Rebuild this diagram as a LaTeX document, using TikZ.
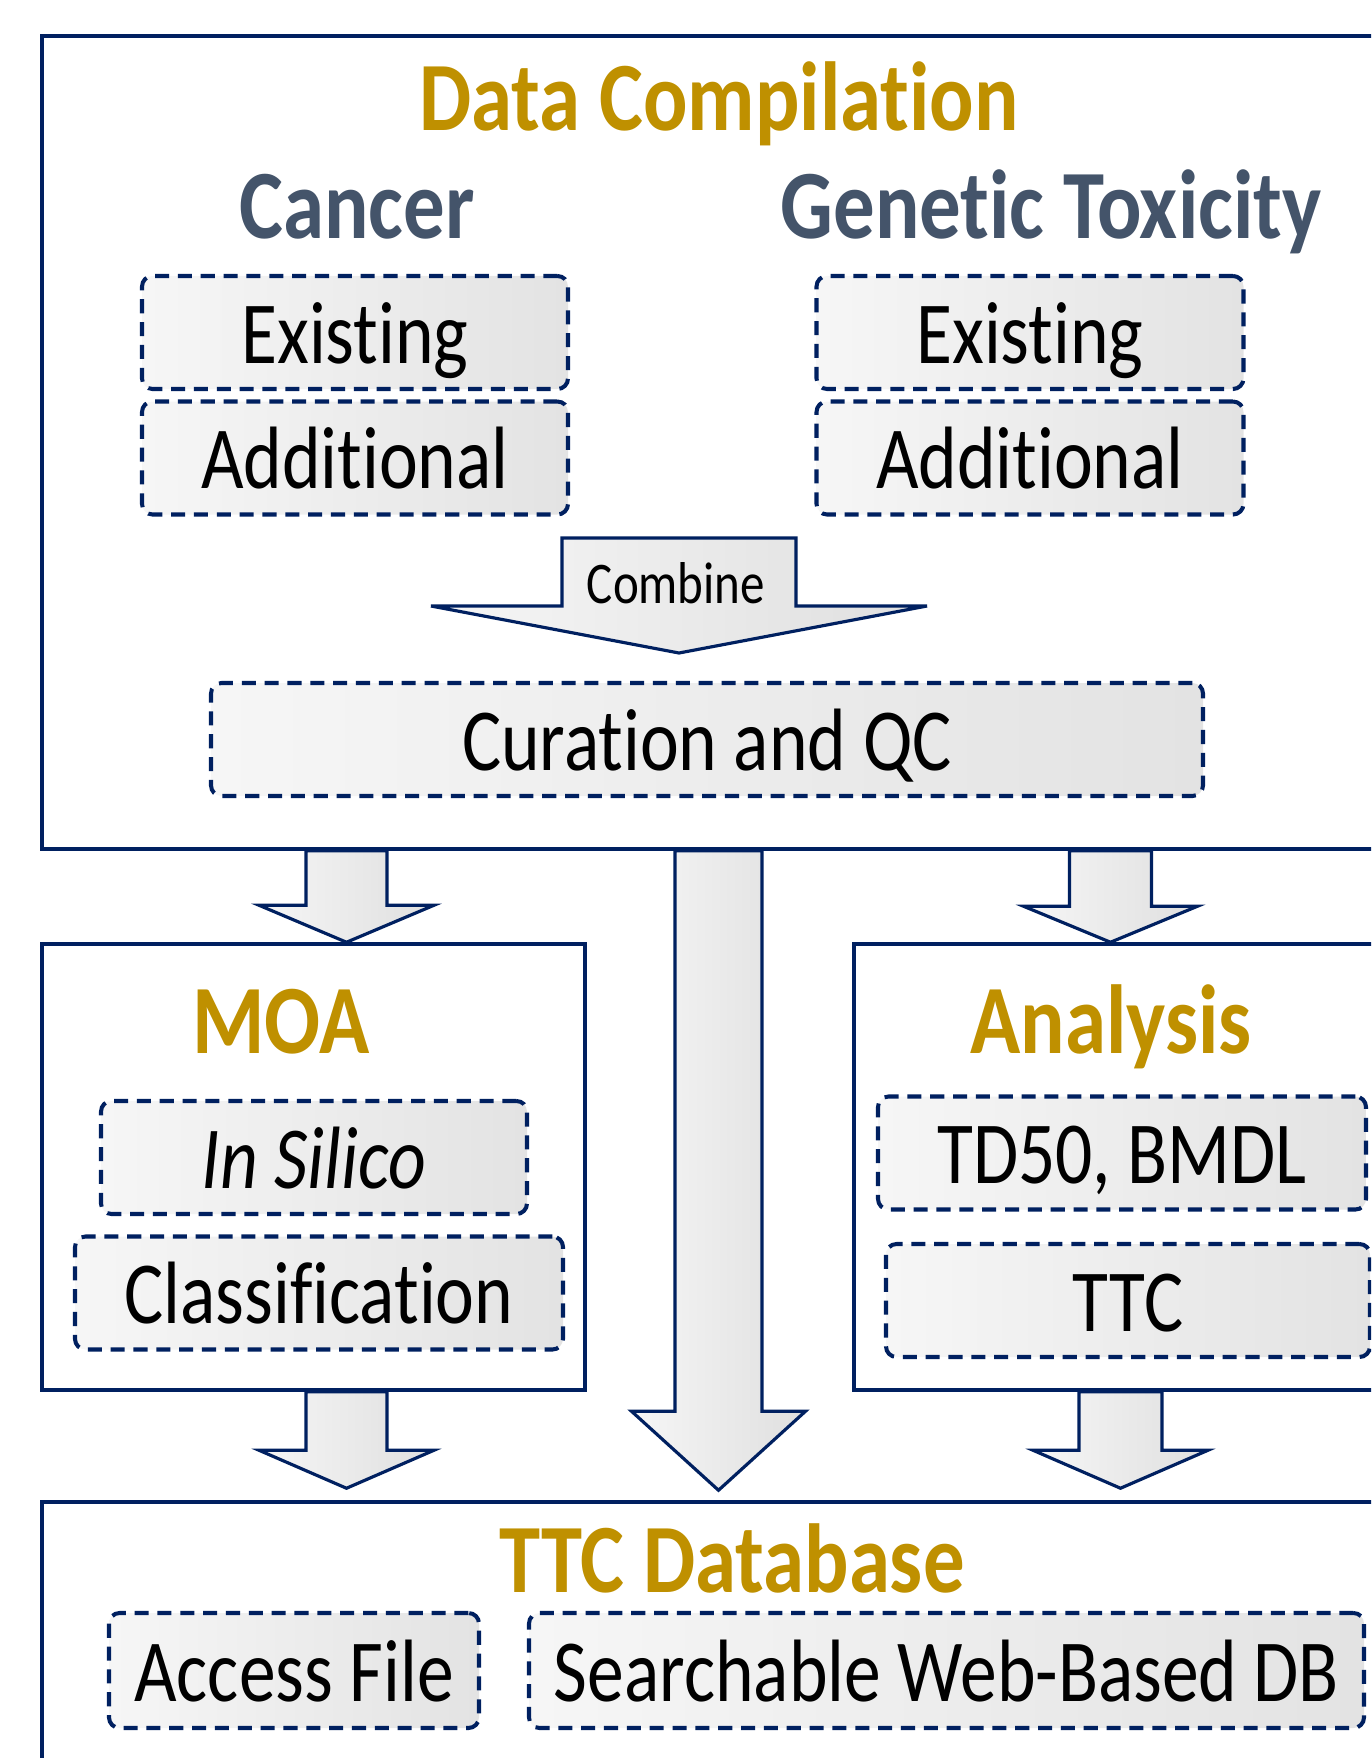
\documentclass[tikz,border=0pt]{standalone}
\usepackage{fontspec}
\setmainfont{Carlito}[FakeStretch=0.83, Ligatures=NoCommon, BoldFeatures={FakeStretch=0.845}]
\usepackage{tikz}
\usetikzlibrary{calc}

\definecolor{navy}{HTML}{002060}
\definecolor{gold}{HTML}{BF9000}
\definecolor{slate}{HTML}{44546A}

\begin{document}
\begin{tikzpicture}[
        stage/.style={rectangle, draw=navy, line width=1pt, inner sep=0pt},
        heading/.style={anchor=base, inner sep=0pt, text=gold, font=\fontsize{27.9}{30}\selectfont\bfseries},
        topic/.style={anchor=base, inner sep=0pt, text=slate, font=\fontsize{27.9}{30}\selectfont\bfseries},
        entry/.style={rectangle, rounded corners=3pt, draw=navy, line width=1.15pt, dash pattern=on 4pt off 2.5pt, left color=gray!7, right color=gray!22, minimum height=1.13cm, inner sep=0pt, text height=17.5pt, text depth=0pt, font=\fontsize{25.2}{28}\selectfont},
        flowbody/.style={draw=navy, line width=0.9pt, left color=gray!7, right color=gray!25},
        flow/.style n args={3}{flowbody, to path={let \p1=(\tikztostart), \p2=(\tikztotarget) in
            (\x1-#1,\y1) -- (\x1-#1,\y2+#3) -- (\x1-#2,\y2+#3) -- (\x1,\y2) -- (\x1+#2,\y2+#3) -- (\x1+#1,\y2+#3) -- (\x1+#1,\y1) -- cycle}}
    ]
    \useasboundingbox (0,0) rectangle (13.71,-17.58);
    \clip (0,0) rectangle (13.71,-17.58);

    % --- frames ---
    \node[stage, minimum width=13.64cm, minimum height=8.13cm] (compile) at (7.24,-4.425) {};
    \node[stage, minimum width=5.43cm, minimum height=4.46cm] (moa) at (3.135,-11.67) {};
    \node[stage, minimum width=5.52cm, minimum height=4.46cm] (analysis) at (11.30,-11.67) {};
    \node[stage, minimum width=13.64cm, minimum height=3.2cm] (db) at (7.24,-16.62) {};

    % --- block arrows ---
    \coordinate (colL) at (3.465,0);
    \coordinate (colM) at (7.185,0);
    \coordinate (colR) at (11.105,0);
    \coordinate (colRb) at (11.205,0);
    \coordinate (combtop) at (6.79,-5.38);
    \coordinate (combtip) at (6.79,-6.53);

    \draw[flow={1.17cm}{2.48cm}{0.47cm}] (combtop) to (combtip);
    \draw[flow={0.405cm}{0.875cm}{0.37cm}] (colL |- compile.south) to (colL |- moa.north);
    \draw[flow={0.41cm}{0.87cm}{0.36cm}] (colR |- compile.south) to (colR |- analysis.north);
    \draw[flow={0.435cm}{0.87cm}{0.79cm}] (colM |- compile.south) to ($(colM |- db.north)+(0,0.1)$);
    \draw[flow={0.405cm}{0.875cm}{0.38cm}] (colL |- moa.south) to ($(colL |- db.north)+(0,0.12)$);
    \draw[flow={0.415cm}{0.875cm}{0.38cm}] (colRb |- analysis.south) to ($(colRb |- db.north)+(0,0.12)$);

    \node[anchor=base, inner sep=0pt, font=\fontsize{16.8}{18}\selectfont] (combine) at (6.76,-6.03) {Combine};

    % --- titles ---
    \node[heading] (tcompile) at (7.19,-1.31) {Data Compilation};
    \node[topic] (tcancer) at (3.57,-2.38) {Cancer};
    \node[topic] (tgenetic) at (10.51,-2.38) {Genetic Toxicity};
    \node[heading] (tmoa) at (2.81,-10.53) {MOA};
    \node[heading] (tanalysis) at (11.11,-10.53) {Analysis};
    \node[heading] (tdb) at (7.32,-15.92) {TTC Database};

    % --- entries ---
    \node[entry, minimum width=4.26cm] (cexist) at (3.55,-3.325) {Existing};
    \node[entry, minimum width=4.26cm] (cadd) at (3.55,-4.58) {Additional};
    \node[entry, minimum width=4.27cm] (gexist) at (10.30,-3.325) {Existing};
    \node[entry, minimum width=4.27cm] (gadd) at (10.30,-4.58) {Additional};
    \node[entry, minimum width=9.92cm] (curation) at (7.07,-7.395) {Curation and QC};

    \node[entry, minimum width=4.26cm] (insilico) at (3.14,-11.575) {\itshape In Silico};
    \node[entry, minimum width=4.88cm] (classif) at (3.19,-12.93) {Classification};
    \node[entry, minimum width=4.88cm] (td50) at (11.22,-11.53) {TD50, BMDL};
    \node[entry, minimum width=4.84cm] (ttc) at (11.28,-13.005) {TTC};

    \node[entry, minimum width=3.70cm, minimum height=1.15cm] (access) at (2.94,-16.705) {Access File};
    \node[entry, minimum width=8.35cm, minimum height=1.15cm] (webdb) at (9.465,-16.705) {Searchable Web-Based DB};

\end{tikzpicture}
\end{document}
